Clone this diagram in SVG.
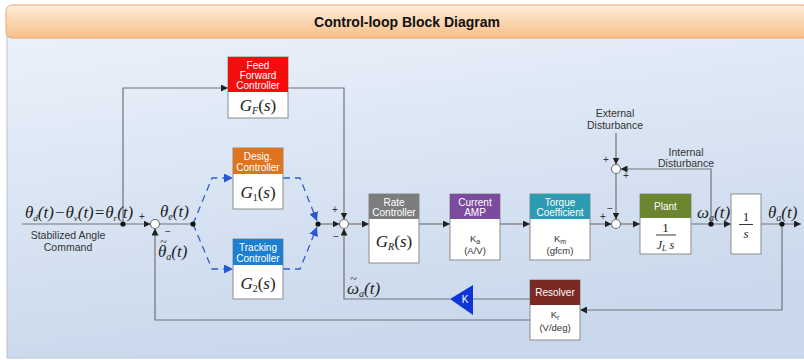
<svg xmlns="http://www.w3.org/2000/svg" width="804" height="360" viewBox="0 0 804 360">
  <defs>
    <linearGradient id="hdrGrad" x1="0" y1="0" x2="0" y2="1">
      <stop offset="0" stop-color="#fdeedd"/>
      <stop offset="1" stop-color="#f8bf88"/>
    </linearGradient>
    <linearGradient id="panelGrad" x1="0" y1="0" x2="0.3" y2="1">
      <stop offset="0" stop-color="#eaf1fa"/>
      <stop offset="1" stop-color="#c9d8ec"/>
    </linearGradient>
    <marker id="arr" viewBox="0 0 8 8" refX="8" refY="4" markerWidth="7" markerHeight="7" markerUnits="userSpaceOnUse" orient="auto">
      <path d="M0,0 L8,4 L0,8 z" fill="#222"/>
    </marker>
    <marker id="arrB" viewBox="0 0 8 8" refX="8" refY="4" markerWidth="9" markerHeight="9" markerUnits="userSpaceOnUse" orient="auto">
      <path d="M0,0 L8,4 L0,8 z" fill="#2a55d4"/>
    </marker>
    <style>
      .ln { stroke:#707478; stroke-width:1.2; fill:none; }
      .dash { stroke:#2f5fd0; stroke-width:1.3; stroke-dasharray:7 5; fill:none; }
      .box { fill:#ffffff; stroke:#8c8c8c; stroke-width:1; }
      .hd { font-family:"Liberation Sans", Arial, sans-serif; font-size:10px; fill:#ffffff; text-anchor:middle; }
      .small { font-family:"Liberation Sans", Arial, sans-serif; font-size:9.5px; fill:#333; text-anchor:middle; }
      .lbl { font-family:"Liberation Sans", Arial, sans-serif; font-size:10.5px; fill:#333; text-anchor:middle; }
      .math { font-family:"Liberation Serif", "Times New Roman", serif; font-style:italic; font-size:17px; fill:#222; }
      .mathc { font-family:"Liberation Serif", "Times New Roman", serif; font-style:italic; font-size:17px; fill:#222; text-anchor:middle; }
      .tilde { font-family:"Liberation Serif", "Times New Roman", serif; font-size:12px; fill:#222; text-anchor:middle; }
      .sign { font-family:"Liberation Sans", Arial, sans-serif; font-size:10px; fill:#333; text-anchor:middle; }
      .sum { fill:#ffffff; stroke:#6a6e72; stroke-width:1.1; }
      .dot { fill:#111; }
    </style>
  </defs>

  <!-- frame -->
  <rect x="7" y="36" width="800" height="322" fill="url(#panelGrad)" stroke="#b8c4d4" stroke-width="1"/>
  <rect x="6" y="5" width="803" height="33" rx="6" fill="url(#hdrGrad)" stroke="#e9a86a" stroke-width="1"/>
  <text x="407" y="27" font-family="Liberation Sans, Arial, sans-serif" font-size="14" font-weight="bold" fill="#111" text-anchor="middle">Control-loop Block Diagram</text>

  <!-- connectors -->
  <g id="connectors">
    <path class="ln" d="M22,224 H150.5" marker-end="url(#arr)"/>
    <path class="ln" d="M123,224 V88 H228" marker-end="url(#arr)"/>
    <path class="ln" d="M288,88 H344 V219.5" marker-end="url(#arr)"/>
    <path class="ln" d="M159.5,224 H193"/>
    <path class="dash" d="M193,224 L212,178 H233" marker-end="url(#arrB)"/>
    <path class="dash" d="M283,178 H300 L317,221" marker-end="url(#arrB)"/>
    <path class="dash" d="M193,224 L212,269 H233" marker-end="url(#arrB)"/>
    <path class="dash" d="M283,269 H300 L317,227" marker-end="url(#arrB)"/>
    <path class="ln" d="M318,224 H339.5" marker-end="url(#arr)"/>
    <path class="ln" d="M348.5,224 H369" marker-end="url(#arr)"/>
    <path class="ln" d="M419,224 H450" marker-end="url(#arr)"/>
    <path class="ln" d="M500,224 H530" marker-end="url(#arr)"/>
    <path class="ln" d="M590,224 H611.5" marker-end="url(#arr)"/>
    <path class="ln" d="M616,133 V164.5" marker-end="url(#arr)"/>
    <path class="ln" d="M711,224 V169 H620.5" marker-end="url(#arr)"/>
    <path class="ln" d="M616,173.5 V219.5" marker-end="url(#arr)"/>
    <path class="ln" d="M620.5,224 H640" marker-end="url(#arr)"/>
    <path class="ln" d="M691,224 H731" marker-end="url(#arr)"/>
    <path class="ln" d="M761,224 H801" marker-end="url(#arr)"/>
    <path class="ln" d="M782,224 V310 H580" marker-end="url(#arr)"/>
    <path class="ln" d="M530,299 H473"/>
    <path class="ln" d="M450,299 H344 V228.5" marker-end="url(#arr)"/>
    <path class="ln" d="M530,320 H155 V228.5" marker-end="url(#arr)"/>
    <circle class="dot" cx="123" cy="224" r="2.6"/>
    <circle class="dot" cx="193" cy="224" r="2.6"/>
    <circle class="dot" cx="318" cy="224" r="2.6"/>
    <circle class="dot" cx="711" cy="224" r="2.6"/>
    <circle class="dot" cx="782" cy="224" r="2.6"/>
  </g>

  <!-- summing junctions -->
  <g id="sum1">
    <circle class="sum" cx="155" cy="224" r="4.5"/>
    <text class="sign" x="142" y="220">+</text>
    <text class="sign" x="168" y="235">−</text>
  </g>
  <g id="sum2">
    <circle class="sum" cx="344" cy="224" r="4.5"/>
    <text class="sign" x="335" y="213">+</text>
    <text class="sign" x="336" y="240">−</text>
  </g>
  <g id="sum3">
    <circle class="sum" cx="616" cy="224" r="4.5"/>
    <text class="sign" x="603" y="220">+</text>
    <text class="sign" x="610" y="212">−</text>
  </g>
  <g id="sum4">
    <circle class="sum" cx="616" cy="169" r="4.5"/>
    <text class="sign" x="606" y="163">+</text>
    <text class="sign" x="626" y="179">+</text>
  </g>

  <!-- signal labels -->
  <g id="input-label">
    <text class="math" x="25" y="218" font-size="16">θ<tspan font-size="9" dy="3">d</tspan><tspan dy="-3">(t)−θ</tspan><tspan font-size="9" dy="3">v</tspan><tspan dy="-3">(t)=θ</tspan><tspan font-size="9" dy="3">r</tspan><tspan dy="-3">(t)</tspan></text>
    <text class="lbl" x="68" y="239">Stabilized Angle</text>
    <text class="lbl" x="68" y="251">Command</text>
  </g>
  <text class="math" x="160" y="217">θ<tspan font-size="10" dy="3">e</tspan><tspan dy="-3">(t)</tspan></text>
  <g id="theta-tilde-label">
    <text class="math" x="158" y="257">θ<tspan font-size="10" dy="3">a</tspan><tspan dy="-3">(t)</tspan></text>
    <text class="tilde" x="163.5" y="246">~</text>
  </g>
  <g id="omega-tilde-label">
    <text class="math" x="347" y="294">ω<tspan font-size="10" dy="3">a</tspan><tspan dy="-3">(t)</tspan></text>
    <text class="tilde" x="353.5" y="283">~</text>
  </g>
  <text class="math" x="697" y="218">ω<tspan font-size="10" dy="3">a</tspan><tspan dy="-3">(t)</tspan></text>
  <text class="math" x="768" y="218">θ<tspan font-size="10" dy="3">a</tspan><tspan dy="-3">(t)</tspan></text>
  <g id="ext-dist">
    <text class="lbl" x="615" y="117">External</text>
    <text class="lbl" x="615" y="129">Disturbance</text>
  </g>
  <g id="int-dist">
    <text class="lbl" x="686" y="156">Internal</text>
    <text class="lbl" x="686" y="167">Disturbance</text>
  </g>

  <!-- blocks -->
  <g id="feed-forward">
    <rect class="box" x="228" y="57" width="60" height="61"/>
    <rect x="228" y="57" width="60" height="35" fill="#f40d0d"/>
    <text class="hd" x="258" y="68.5">Feed</text>
    <text class="hd" x="258" y="78.5">Forward</text>
    <text class="hd" x="258" y="88.5">Controller</text>
    <text class="mathc" x="258" y="111">G<tspan font-size="10" dy="3">F</tspan><tspan dy="-3" font-style="normal">(</tspan>s<tspan font-style="normal">)</tspan></text>
  </g>
  <g id="desig-controller">
    <rect class="box" x="233" y="148" width="50" height="61"/>
    <rect x="233" y="148" width="50" height="26" fill="#e0731e"/>
    <text class="hd" x="258" y="160">Desig.</text>
    <text class="hd" x="258" y="171">Controller</text>
    <text class="mathc" x="258" y="198">G<tspan font-size="10" dy="3" font-style="normal">1</tspan><tspan dy="-3" font-style="normal">(</tspan>s<tspan font-style="normal">)</tspan></text>
  </g>
  <g id="tracking-controller">
    <rect class="box" x="233" y="239" width="50" height="60"/>
    <rect x="233" y="239" width="50" height="26" fill="#1c7fd2"/>
    <text class="hd" x="258" y="251">Tracking</text>
    <text class="hd" x="258" y="262">Controller</text>
    <text class="mathc" x="258" y="289">G<tspan font-size="10" dy="3" font-style="normal">2</tspan><tspan dy="-3" font-style="normal">(</tspan>s<tspan font-style="normal">)</tspan></text>
  </g>
  <g id="rate-controller">
    <rect class="box" x="369" y="194" width="50" height="69"/>
    <rect x="369" y="194" width="50" height="25" fill="#7d7d7d"/>
    <text class="hd" x="394" y="205.5">Rate</text>
    <text class="hd" x="394" y="216">Controller</text>
    <text class="mathc" x="394" y="247">G<tspan font-size="10" dy="3">R</tspan><tspan dy="-3" font-style="normal">(</tspan>s<tspan font-style="normal">)</tspan></text>
  </g>
  <g id="current-amp">
    <rect class="box" x="450" y="194" width="50" height="66"/>
    <rect x="450" y="194" width="50" height="25" fill="#7b4c9e"/>
    <text class="hd" x="475" y="205.5">Current</text>
    <text class="hd" x="475" y="216">AMP</text>
    <text class="small" x="475" y="242">K<tspan font-size="7" dy="2">a</tspan></text>
    <text class="small" x="475" y="254">(A/V)</text>
  </g>
  <g id="torque-coefficient">
    <rect class="box" x="530" y="194" width="60" height="66"/>
    <rect x="530" y="194" width="60" height="25" fill="#2b9cb2"/>
    <text class="hd" x="560" y="205.5">Torque</text>
    <text class="hd" x="560" y="216">Coefficient</text>
    <text class="small" x="560" y="242">K<tspan font-size="7" dy="2">m</tspan></text>
    <text class="small" x="560" y="254">(gfcm)</text>
  </g>
  <g id="plant">
    <rect class="box" x="640" y="194" width="51" height="60"/>
    <rect x="640" y="194" width="51" height="24" fill="#6b8530"/>
    <text class="hd" x="665.5" y="210">Plant</text>
    <text x="665.5" y="232" font-family="Liberation Serif, serif" font-size="13" fill="#222" text-anchor="middle">1</text>
    <line x1="656" y1="235" x2="676" y2="235" stroke="#222" stroke-width="0.9"/>
    <text x="665.5" y="249" font-family="Liberation Serif, serif" font-style="italic" font-size="12" fill="#222" text-anchor="middle">J<tspan font-size="8" dy="2">L</tspan><tspan dy="-2"> s</tspan></text>
  </g>
  <g id="integrator">
    <rect class="box" x="731" y="194" width="30" height="60"/>
    <text x="746" y="221" font-family="Liberation Serif, serif" font-size="13" fill="#222" text-anchor="middle">1</text>
    <line x1="739" y1="224.5" x2="753" y2="224.5" stroke="#222" stroke-width="0.9"/>
    <text x="746" y="238" font-family="Liberation Serif, serif" font-style="italic" font-size="13" fill="#222" text-anchor="middle">s</text>
  </g>
  <g id="resolver">
    <rect class="box" x="530" y="280" width="50" height="60"/>
    <rect x="530" y="280" width="50" height="25" fill="#7a2a22"/>
    <text class="hd" x="555" y="296">Resolver</text>
    <text class="small" x="555" y="318">K<tspan font-size="7" dy="2">r</tspan></text>
    <text class="small" x="555" y="331">(V/deg)</text>
  </g>
  <g id="gain-k">
    <polygon points="450,299 473,285 473,315" fill="#1034d6"/>
    <text x="465" y="303" font-family="Liberation Sans, Arial, sans-serif" font-size="10" fill="#ffffff" text-anchor="middle">K</text>
  </g>
</svg>
